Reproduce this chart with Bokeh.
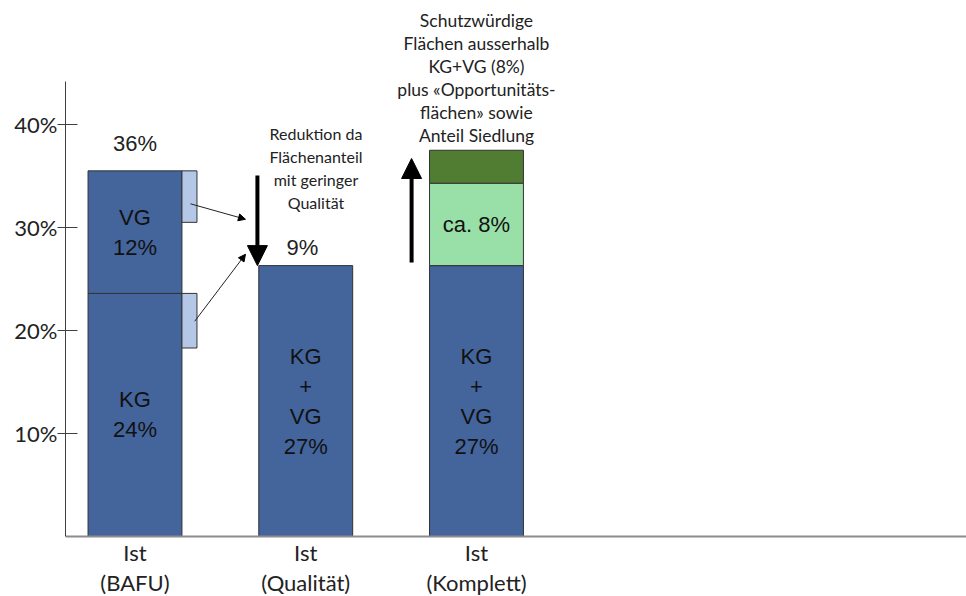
from bokeh.plotting import figure
from bokeh.models import Range1d, FixedTicker, Arrow, NormalHead, ColumnDataSource
from bokeh.core.properties import value
from bokeh.embed import file_html
from bokeh.resources import INLINE

# ---- data (in %) ----
categories = ["Ist\n(BAFU)", "Ist\n(Qualität)", "Ist\n(Komplett)"]
kg_bafu = 23.6            # KG share, BAFU
vg_bafu = 11.9            # VG share, BAFU
kg_vg_quality = 26.3      # KG+VG after quality reduction
kg_vg_komplett = 26.3     # KG+VG in complete variant
schutz_ausserhalb = 8.0   # protected areas outside KG+VG (ca. 8%)
opport_siedlung = 3.2     # opportunity areas + settlement share
reduktion_vg = 5.0        # low-quality part of VG
reduktion_kg = 5.3        # low-quality part of KG
y_ticks = [10, 20, 30, 40]
y_tick_labels = ["10%", "20%", "30%", "40%"]
label_total_bafu = "36%"
label_reduction = "9%"
label_vg = "VG\n12%"
label_kg = "KG\n24%"
label_kgvg = "KG\n+\nVG\n27%"
label_schutz = "ca. 8%"
note_reduktion = "Reduktion da\nFlächenanteil\nmit geringer\nQualität"
note_komplett = ("Schutzwürdige\nFlächen ausserhalb\nKG+VG (8%)\n"
                 "plus «Opportunitäts-\nflächen» sowie\nAnteil Siedlung")

# ---- styles ----
BLUE = "#44649C"
LIGHTBLUE = "#B4C7E7"
LIGHTGREEN = "#99DFA8"
DARKGREEN = "#507D32"
EDGE = "#333333"
W = 0.55
PX = 10.3   # pixels per percent
xs = list(range(len(categories)))

p = figure(width=966, height=596,
           x_range=Range1d(-0.407, 4.870),
           y_range=Range1d(-60 / PX, 536 / PX),
           output_backend="svg", toolbar_location=None,
           min_border_left=65, min_border_bottom=0, min_border_top=0,
           min_border_right=0)
p.background_fill_color = "white"
p.border_fill_color = "white"
p.outline_line_color = None
p.grid.visible = False

# x axis (placed at 0 inside the frame)
p.xaxis.fixed_location = 0
p.xaxis.ticker = FixedTicker(ticks=xs)
p.xaxis.major_label_overrides = {i: c for i, c in zip(xs, categories)}
p.xaxis.axis_line_color = "#8C8C8C"
p.xaxis.axis_line_width = 2
p.xaxis.major_tick_line_color = None
p.xaxis.minor_tick_line_color = None
p.xaxis.major_label_standoff = -4
p.xaxis.major_label_text_font = "Lato"
p.xaxis.major_label_text_font_size = "22px"
p.xaxis.major_label_text_color = "#222222"
p.xaxis.major_label_text_line_height = 1.12

# y axis
p.yaxis.ticker = FixedTicker(ticks=y_ticks)
p.yaxis.major_label_overrides = {t: l for t, l in zip(y_ticks, y_tick_labels)}
p.yaxis.bounds = (0, 44.2)
p.yaxis.axis_line_color = "#404040"
p.yaxis.major_tick_line_color = "#404040"
p.yaxis.minor_tick_line_color = None
p.yaxis.major_tick_in = 12
p.yaxis.major_tick_out = 8
p.yaxis.major_label_standoff = 0
p.yaxis.major_label_text_font = "Lato"
p.yaxis.major_label_text_font_size = "22px"
p.yaxis.major_label_text_color = "#222222"

# stacked segments
seg = ColumnDataSource(dict(
    x=[xs[0], xs[0], xs[1], xs[2], xs[2], xs[2]],
    bottom=[0, kg_bafu, 0, 0, kg_vg_komplett, kg_vg_komplett + schutz_ausserhalb],
    top=[kg_bafu, kg_bafu + vg_bafu, kg_vg_quality, kg_vg_komplett,
         kg_vg_komplett + schutz_ausserhalb,
         kg_vg_komplett + schutz_ausserhalb + opport_siedlung],
    color=[BLUE, BLUE, BLUE, BLUE, LIGHTGREEN, DARKGREEN],
))
p.vbar(x="x", bottom="bottom", top="top", width=W, fill_color="color",
       line_color=EDGE, line_width=1, source=seg)

# low-quality side blocks next to BAFU bar
red = ColumnDataSource(dict(
    left=[xs[0] + W / 2] * 2,
    right=[xs[0] + W / 2 + 0.088] * 2,
    top=[kg_bafu + vg_bafu, kg_bafu],
    bottom=[kg_bafu + vg_bafu - reduktion_vg, kg_bafu - reduktion_kg],
))
p.quad(left="left", right="right", top="top", bottom="bottom",
       fill_color=LIGHTBLUE, line_color=EDGE, line_width=1, source=red)

# texts
arial = value("Liberation Sans")
lato = value("Lato")
p.text(x=[xs[0]], y=[kg_bafu + vg_bafu + 2.7], text=[label_total_bafu],
       text_font=arial, text_font_size="22px", text_align="center",
       text_baseline="middle", text_color="#222222")
p.text(x=[xs[1] - 0.02], y=[kg_vg_quality + 1.8], text=[label_reduction],
       text_font=arial, text_font_size="22px", text_align="center",
       text_baseline="middle", text_color="#222222")
p.text(x=[xs[0], xs[0], xs[1], xs[2], xs[2]],
       y=[kg_bafu + vg_bafu / 2, kg_bafu / 2, kg_vg_quality / 2,
          kg_vg_komplett / 2, kg_vg_komplett + schutz_ausserhalb / 2],
       text=[label_vg, label_kg, label_kgvg, label_kgvg, label_schutz],
       text_font=arial, text_font_size="22px", text_align="center",
       text_baseline="middle", text_color="#111111", text_line_height=1.2)
p.text(x=[xs[1] + 0.06], y=[35.8], text=[note_reduktion],
       text_font=lato, text_font_size="16px", text_align="center",
       text_baseline="middle", text_color="#222222", text_line_height=1.21)
p.text(x=[xs[2]], y=[44.5], text=[note_komplett],
       text_font=lato, text_font_size="17.5px", text_align="center",
       text_baseline="middle", text_color="#222222", text_line_height=1.1)

# arrows
p.add_layout(Arrow(end=NormalHead(size=20, fill_color="black", line_color="black"),
                   x_start=0.717, y_start=kg_bafu + vg_bafu - 0.45,
                   x_end=0.717, y_end=kg_vg_quality,
                   line_width=4, line_color="black"))
p.add_layout(Arrow(end=NormalHead(size=20, fill_color="black", line_color="black"),
                   x_start=1.62, y_start=kg_vg_komplett + 0.3,
                   x_end=1.62, y_end=kg_vg_komplett + schutz_ausserhalb + opport_siedlung - 0.8,
                   line_width=4, line_color="black"))
p.add_layout(Arrow(end=NormalHead(size=7, fill_color="black", line_color="black"),
                   x_start=0.325, y_start=kg_bafu + vg_bafu - 3.2,
                   x_end=0.647, y_end=30.8, line_width=1, line_color="#222222"))
p.add_layout(Arrow(end=NormalHead(size=7, fill_color="black", line_color="black"),
                   x_start=0.35, y_start=kg_bafu - 2.7,
                   x_end=0.647, y_end=27.4, line_width=1, line_color="#222222"))

open("out.html", "w").write(file_html(p, INLINE))
